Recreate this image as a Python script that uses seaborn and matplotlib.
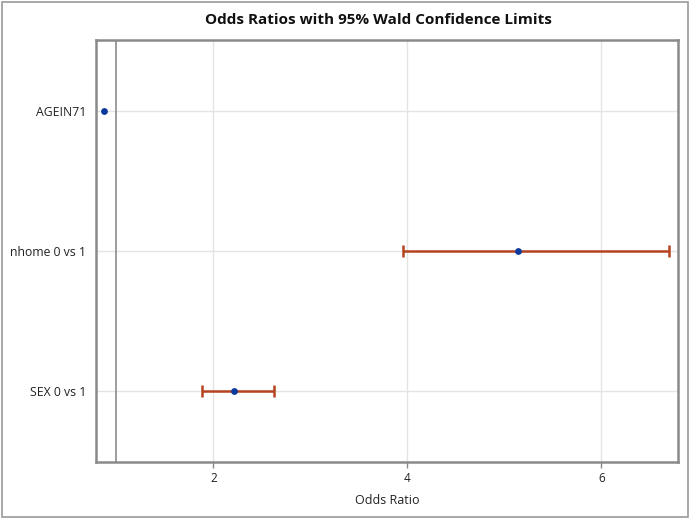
import matplotlib
matplotlib.use("Agg")
import matplotlib.pyplot as plt
import seaborn as sns
import pandas as pd
from matplotlib.patches import Rectangle

effects = ["AGEIN71", "nhome 0 vs 1", "SEX 0 vs 1"]
odds_ratio = [0.876, 5.14, 2.21]
lower_cl = [float("nan"), 3.95, 1.88]
upper_cl = [float("nan"), 6.70, 2.62]

df = pd.DataFrame({"Effect": effects, "OR": odds_ratio, "Lower": lower_cl, "Upper": upper_cl})

sns.set_theme(style="white")
plt.rcParams["font.family"] = ["Open Sans", "DejaVu Sans"]

fig = plt.figure(figsize=(6.9, 5.18), dpi=100)
ax = fig.add_axes([96/690, 1-462/518, (678-96)/690, (462-40)/518])

ypos = list(range(len(effects)))
ax.set_yticks(ypos)
ax.set_yticklabels(effects)
ax.set_xticks([2, 4, 6])
ax.grid(True, color="#e4e4e4", linewidth=1.0)
ax.set_axisbelow(True)

ax.axvline(1, color="#8c8c8c", linewidth=1.2, zorder=1)

xerr = [[o - l for o, l in zip(df["OR"], df["Lower"])],
        [u - o for o, u in zip(df["OR"], df["Upper"])]]
ax.errorbar(df["OR"], ypos, xerr=xerr, fmt="none", ecolor="#b5431f",
            elinewidth=1.8, capsize=4, capthick=1.8, zorder=2)
sns.scatterplot(x=df["OR"], y=ypos, ax=ax, color="#0b3a9c", s=24,
                edgecolor="#0b3a9c", linewidth=0, zorder=3)

ax.set_xlim(0.79, 6.79)
ax.set_ylim(2.51, -0.51)
ax.set_xlabel("Odds Ratio", fontsize=9, color="#222222", labelpad=6)
ax.set_ylabel("")
ax.tick_params(axis="x", length=4, width=1, color="#888888", labelsize=8.5, labelcolor="#222222", bottom=True)
ax.tick_params(axis="y", length=0, labelsize=8.8, labelcolor="#222222", pad=7)
for s in ax.spines.values():
    s.set_color("#8a8a8a")
    s.set_linewidth(1.8)

fig.text(378/690, 1-20/518, "Odds Ratios with 95% Wald Confidence Limits",
         ha="center", va="center", fontsize=11, fontweight="bold", color="#111111")

fig.patches.append(Rectangle((2/690, 1/518), 686/690, 515/518, transform=fig.transFigure,
                             fill=False, edgecolor="#9a9a9a", linewidth=1.2))

fig.savefig("out.png", dpi=100)
